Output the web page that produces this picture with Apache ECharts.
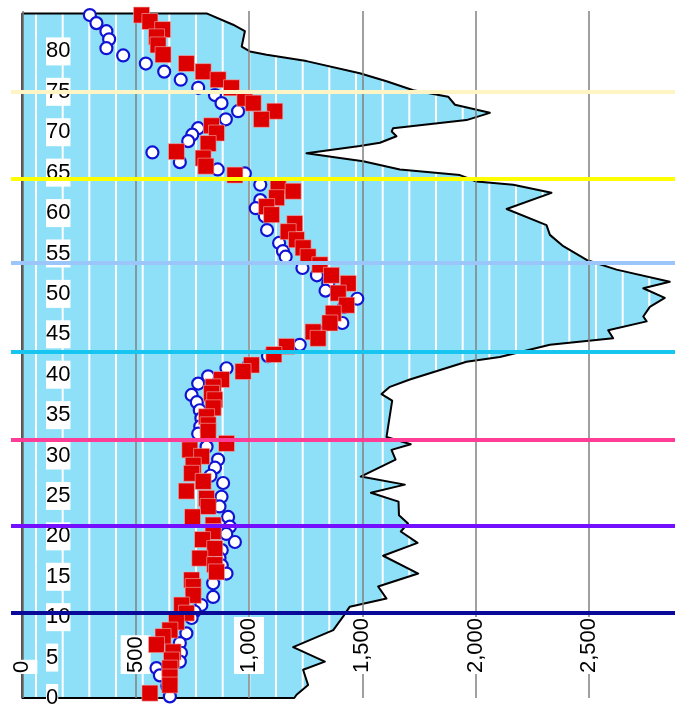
<!DOCTYPE html>
<html><head><meta charset="utf-8">
<script src="https://cdn.jsdelivr.net/npm/echarts@6/dist/echarts.min.js"></script>
<style>html,body{margin:0;padding:0;background:#fff}#c{width:675px;height:717px}</style>
</head><body><div id="c"></div>
<script>
// ---- data ----
const profileY = [84.7,83.3,82.5,80.6,80.0,79.6,78.8,77.3,76.3,75.2,74.4,73.4,72.4,71.5,70.5,70.1,69.5,68.7,68.3,67.4,66.8,66.4,65.4,64.7,63.9,63.5,62.5,60.5,58.5,57.3,55.9,54.2,53.0,51.5,50.7,49.5,48.4,47.2,46.6,45.5,44.5,43.7,42.2,41.6,39.4,38.5,37.6,36.8,32.3,31.4,30.7,29.5,27.4,26.4,25.4,24.3,22.6,21.6,20.6,19.2,17.6,15.4,13.8,12.3,11.3,10.1,8.4,6.3,4.5,3.5,1.6,0.4,0];
const profileX = [813,930,982,968,1004,1078,1254,1489,1607,1725,1879,1909,2063,1960,1636,1630,1651,1578,1489,1254,1401,1504,1666,1931,2004,2166,2335,2137,2313,2328,2387,2490,2622,2857,2740,2835,2769,2740,2755,2585,2607,2328,2107,1960,1710,1622,1585,1632,1607,1714,1629,1647,1493,1688,1538,1660,1662,1702,1670,1744,1592,1747,1570,1607,1445,1416,1372,1195,1335,1239,1261,1210,1200];

const circleY = [84.5,83.5,82.5,81.5,80.4,79.5,78.5,77.5,76.5,75.5,74.6,73.6,72.6,71.6,70.5,69.7,68.9,67.5,66.3,65.4,64.9,63.5,61.6,60.6,59.6,57.9,56.3,55.3,54.6,53.2,52.3,51.3,50.4,49.4,48.4,46.4,45.4,43.7,42.3,41.2,40.8,39.8,38.9,37.5,36.6,35.6,34.6,33.6,32.7,31.1,29.5,28.5,27.5,26.6,24.9,23.7,22.4,21.2,20.3,19.3,18.3,17.3,16.4,15.4,14.2,12.5,11.5,10.7,9.9,8.0,6.8,5.6,4.5,3.7,2.8,1.5,0.2];
const circleX = [298,327,371,383,371,445,545,626,699,776,850,879,952,898,776,750,732,574,695,862,982,1050,1050,1030,1070,1080,1133,1150,1162,1236,1300,1350,1338,1478,1420,1412,1300,1224,1084,1000,901,820,776,747,770,783,790,785,776,813,864,850,830,886,879,870,908,916,900,938,880,870,880,901,842,842,790,760,747,724,695,700,695,592,607,640,651];

const squareY = [84.5,83.7,82.7,81.8,80.8,79.6,78.5,77.5,76.5,75.5,74.2,73.6,72.6,71.6,70.8,69.9,68.6,67.6,66.8,65.8,64.7,63.3,62.7,61.9,60.8,59.8,58.7,57.7,56.7,55.7,54.6,53.6,52.3,51.3,50.1,48.6,47.6,46.4,45.3,44.5,43.5,42.5,41.2,40.4,39.4,38.5,37.7,36.9,35.9,34.8,33.8,33.0,31.5,30.7,29.9,28.8,27.8,26.8,25.6,24.7,23.7,22.4,21.4,20.6,19.6,18.5,17.3,16.5,15.6,14.6,13.8,12.7,11.5,10.5,9.4,8.4,7.6,6.6,5.7,4.7,3.7,2.6,1.6,0.6];
const squareX = [526,563,619,592,599,621,724,798,864,923,982,1019,1114,1055,835,857,820,680,798,810,938,1129,1195,1122,1078,1100,1202,1173,1210,1239,1261,1313,1364,1438,1394,1431,1372,1357,1283,1305,1166,1110,1011,974,879,842,835,849,842,813,820,820,901,739,791,754,747,798,724,813,820,751,842,842,795,849,783,849,857,747,754,754,703,724,680,651,621,592,665,658,651,651,651,563];

const boundaryY = [75, 64.3, 53.9, 42.8, 31.9, 21.3, 10.5];
const xTickValues = [0, 500, 1000, 1500, 2000, 2500];
const yTickValues = [0,5,10,15,20,25,30,35,40,45,50,55,60,65,70,75,80];

// ---- styles ----
const boundaryColors = ['#fff4c4', '#ffff00', '#9cc6fa', '#16c6f0', '#ff3d96', '#7410ff', '#0a0a98'];
const FONT = 'Liberation Sans, Arial, sans-serif';

// stripe pattern (blue with white vertical stripes)
const pat = document.createElement('canvas');
pat.width = 80; pat.height = 8;
const pc = pat.getContext('2d');
pc.fillStyle = '#8ee0f8'; pc.fillRect(0, 0, 80, 8);
pc.fillStyle = '#ffffff';
[9.33, 36, 62.67].forEach(s => pc.fillRect(s - 1, 0, 2, 8));

const polygon = [[0, 0], [0, profileY[0]]].concat(profileY.map((y, i) => [profileX[i], y]));

const chart = echarts.init(document.getElementById('c'), null, {renderer: 'canvas'});
chart.setOption({
  animation: false,
  backgroundColor: '#fff',
  grid: {left: 11, right: 0, top: 11, bottom: 19, containLabel: false},
  xAxis: {
    type: 'value', min: -50, max: 2880, minInterval: 500, maxInterval: 500, z: 2,
    position: 'bottom',
    axisLine: {show: false, onZero: false},
    axisTick: {show: false},
    splitLine: {show: true, showMinLine: false, showMaxLine: false, lineStyle: {color: '#808080', width: 1.5}},
    axisLabel: {
      inside: true, rotate: 90, margin: 24, showMinLabel: false, showMaxLabel: false,
      fontFamily: FONT, fontSize: 22, color: '#000',
      backgroundColor: '#fff', padding: [4, 1],
      formatter: v => xTickValues.indexOf(v) >= 0 ? v.toLocaleString('en-US') : ''
    }
  },
  yAxis: {
    type: 'value', min: 0, max: 85, interval: 5, z: 2,
    axisLine: {show: false, onZero: false},
    axisTick: {show: false},
    splitLine: {show: false},
    axisLabel: {
      inside: true, margin: 35, showMaxLabel: false,
      fontFamily: FONT, fontSize: 22, color: '#000',
      backgroundColor: '#fff', padding: [3, 0],
      formatter: v => yTickValues.indexOf(v) >= 0 ? String(v) : ''
    }
  },
  series: [
    {
      type: 'custom', coordinateSystem: 'cartesian2d', z: 1, silent: true, clip: false,
      data: [[0, 0]],
      renderItem: (params, api) => ({
        type: 'polygon',
        shape: {points: polygon.map(p => api.coord(p))},
        style: {fill: {image: pat, repeat: 'repeat'}, stroke: '#000', lineWidth: 2, lineJoin: 'round'}
      })
    },
    {
      type: 'scatter', z: 3, symbol: 'circle', symbolSize: 12,
      itemStyle: {color: '#fff', borderColor: '#1212d2', borderWidth: 2.2, opacity: 1},
      data: circleY.map((y, i) => [circleX[i], y])
    },
    {
      type: 'scatter', z: 4, symbol: 'rect', symbolSize: 16,
      itemStyle: {color: '#dc0000', borderColor: '#f4b0b0', borderWidth: 0.6, opacity: 1},
      data: squareY.map((y, i) => [squareX[i], y]),
      markLine: {
        silent: true, symbol: 'none', animation: false, z: 5,
        label: {show: false},
        data: boundaryY.map((y, i) => ({yAxis: y, lineStyle: {color: boundaryColors[i], width: 4, type: 'solid'}}))
      }
    }
  ]
});
</script></body></html>
